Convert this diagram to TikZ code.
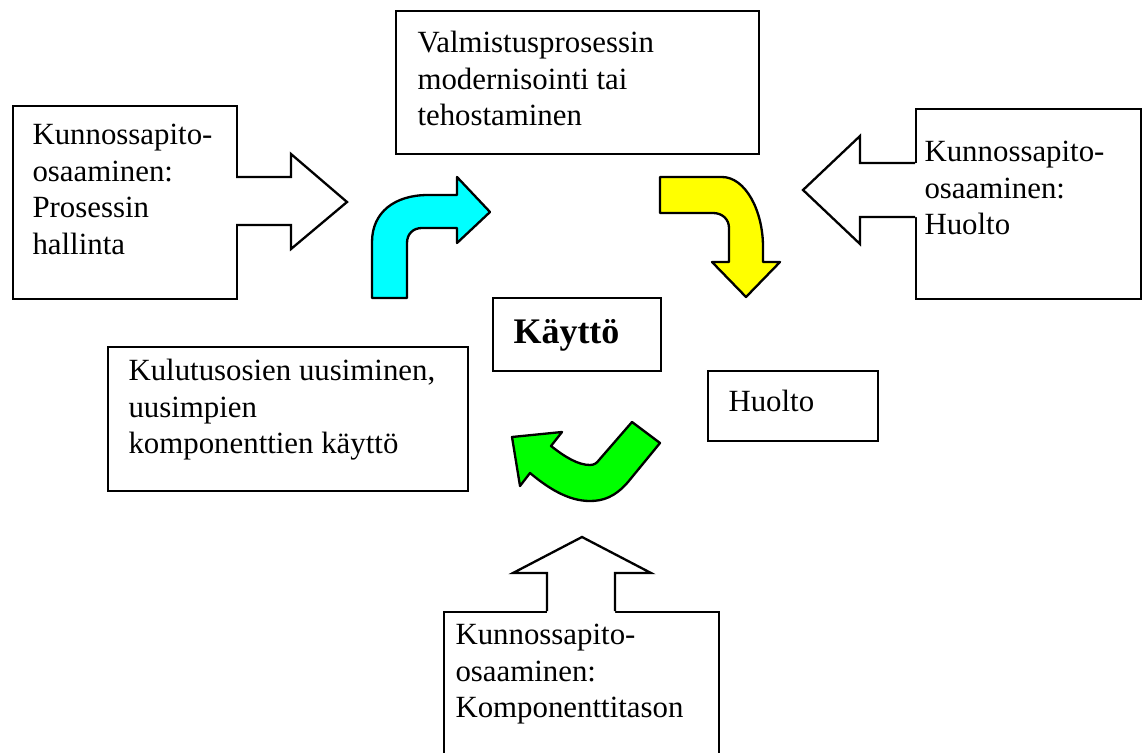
\documentclass[tikz,border=0pt]{standalone}
\usepackage{fontspec}
\setmainfont{Liberation Serif}
\definecolor{syaani}{RGB}{0,255,255}
\definecolor{keltainen}{RGB}{255,255,0}
\definecolor{vihrea}{RGB}{0,255,0}
\tikzset{
    box/.style={draw, line width=0.9pt, fill=white, inner sep=0pt, anchor=north west},
    lbl/.style={inner sep=0pt, anchor=north west, align=left, font=\fontsize{12}{14.2}\selectfont},
    blk/.style={line width=0.9pt, line join=miter},
    kaari/.style={draw, line width=0.9pt, line join=round}
}
\begin{document}
\begin{tikzpicture}[x=0.389pt, y=-0.389pt]
    \useasboundingbox (0,0) rectangle (1147,752);
    \clip (0,0) rectangle (1147,752);

    % Laatikot
    \node[box, minimum width=87.1pt, minimum height=75.1pt] (prosessi) at (12,105) {};
    \node[box, minimum width=141.2pt, minimum height=55.6pt] (valmistus) at (395,10) {};
    \node[box, minimum width=87.5pt, minimum height=73.9pt] (huoltoos) at (915,108) {};
    \node[box, minimum width=107pt, minimum height=61.9pt] (kompon) at (443,611) {};
    \node[box, minimum width=65.4pt, minimum height=28.4pt] (kaytto) at (492,297) {};
    \node[box, minimum width=140pt, minimum height=56pt] (kulutus) at (107,346) {};
    \node[box, minimum width=66.1pt, minimum height=27.2pt] (huolto) at (707,370) {};

    % Nuolet osaamisesta
    \fill[white] (234,177) -- (291,177) -- (291,154) -- (347,202) -- (291,249) -- (291,225) -- (234,225) -- cycle;
    \draw[blk] (236,177) -- (291,177) -- (291,154) -- (347,202) -- (291,249) -- (291,225) -- (236,225);
    \fill[white] (917,163) -- (860,163) -- (860,136) -- (803,190) -- (860,244) -- (860,217) -- (917,217) -- cycle;
    \draw[blk] (915,163) -- (860,163) -- (860,136) -- (803,190) -- (860,244) -- (860,217) -- (915,217);
    \fill[white] (547,613) -- (547,573) -- (513,573) -- (582,537) -- (651,573) -- (615,573) -- (615,613) -- cycle;
    \draw[blk] (547,611) -- (547,573) -- (513,573) -- (582,537) -- (651,573) -- (615,573) -- (615,611);

    % Kaarevat nuolet
    \draw[kaari, fill=syaani] (372,298) -- (372,242) .. controls (372,212) and (395,195) .. (428,195)
        -- (457,195) -- (457,177) -- (490,212) -- (457,243) -- (457,228) -- (422,228)
        .. controls (413,228) and (407,234) .. (407,243) -- (407,298) -- cycle;
    \draw[kaari, fill=keltainen] (660,177) -- (722,177) .. controls (745,177) and (763,210) .. (763,247)
        -- (763,262) -- (780,262) -- (746,297) -- (712,262) -- (729,262) -- (729,228)
        .. controls (729,219) and (722,213) .. (713,213) -- (660,213) -- cycle;
    \draw[kaari, fill=vihrea] (512,437) -- (562,432) -- (551,446) .. controls (565,457) and (578,465) .. (590,465)
        .. controls (594,465) and (597,463) .. (599,460) -- (632,422) -- (660,443) -- (628,482)
        .. controls (615,497) and (603,501) .. (590,501) .. controls (568,501) and (548,488) .. (530,473)
        -- (520,486) -- cycle;

    % Tekstit
    \node[lbl] (tprosessi) at ([shift={(20,19)}]prosessi.north west) {Kunnossapito-\\osaaminen:\\Prosessin\\hallinta};
    \node[lbl] (tvalmistus) at ([shift={(22,21)}]valmistus.north west) {Valmistusprosessin\\modernisointi tai\\tehostaminen};
    \node[lbl] (thuoltoos) at ([shift={(9,33)}]huoltoos.north west) {Kunnossapito-\\osaaminen:\\Huolto};
    \node[lbl] (tkompon) at ([shift={(12,13)}]kompon.north west) {Kunnossapito-\\osaaminen:\\Komponenttitason};
    \node[lbl] (tkulutus) at ([shift={(21,13)}]kulutus.north west) {Kulutusosien uusiminen,\\uusimpien\\komponenttien käyttö};
    \node[lbl] (thuolto) at ([shift={(21,20)}]huolto.north west) {Huolto};
    \node[inner sep=0pt, anchor=base west, font=\fontsize{14}{16}\selectfont\bfseries] (tkaytto)
        at ([shift={(21,46)}]kaytto.north west) {Käyttö};
\end{tikzpicture}
\end{document}
